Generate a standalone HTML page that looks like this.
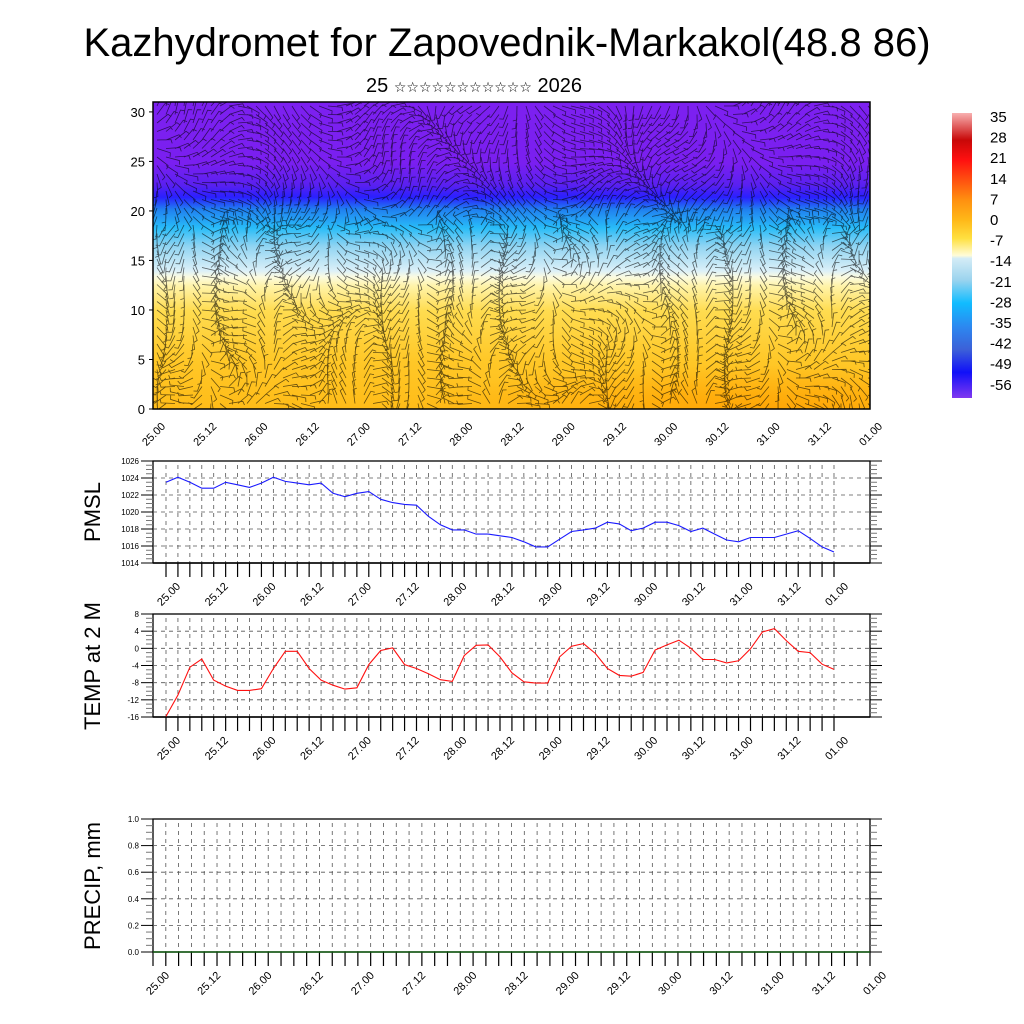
<!DOCTYPE html>
<html><head><meta charset="utf-8">
<style>
html,body{margin:0;padding:0;background:#fff;}
svg{display:block;font-family:"Liberation Sans","DejaVu Sans",sans-serif;}
</style></head>
<body>
<svg id="chart" width="1024" height="1024" viewBox="0 0 1024 1024" xmlns="http://www.w3.org/2000/svg">
<defs>
<linearGradient id="vgrad" x1="0" y1="1" x2="0" y2="0">
<stop offset="0" stop-color="#ffbc18"/>
<stop offset="0.16" stop-color="#ffc828"/>
<stop offset="0.32" stop-color="#ffdc50"/>
<stop offset="0.40" stop-color="#fff3a8"/>
<stop offset="0.43" stop-color="#fbfbe0"/>
<stop offset="0.45" stop-color="#dcf0f8"/>
<stop offset="0.53" stop-color="#90d4f2"/>
<stop offset="0.59" stop-color="#28bcf8"/>
<stop offset="0.65" stop-color="#2080f0"/>
<stop offset="0.69" stop-color="#2a20ff"/>
<stop offset="0.73" stop-color="#5a20f0"/>
<stop offset="0.80" stop-color="#7a1ff0"/>
<stop offset="1" stop-color="#7c20f0"/>
</linearGradient>
<radialGradient id="orange" cx="0.85" cy="1" r="0.5">
<stop offset="0" stop-color="#ffa000" stop-opacity="0.8"/>
<stop offset="1" stop-color="#ffa000" stop-opacity="0"/>
</radialGradient>
<linearGradient id="cbar" x1="0" y1="0" x2="0" y2="1">
<stop offset="0" stop-color="#f8b0b0"/>
<stop offset="0.095" stop-color="#c80808"/>
<stop offset="0.165" stop-color="#ff1010"/>
<stop offset="0.235" stop-color="#ff5010"/>
<stop offset="0.305" stop-color="#ff9010"/>
<stop offset="0.375" stop-color="#ffb818"/>
<stop offset="0.44" stop-color="#ffe040"/>
<stop offset="0.50" stop-color="#fffcd8"/>
<stop offset="0.51" stop-color="#d4ecf6"/>
<stop offset="0.585" stop-color="#9cd4ee"/>
<stop offset="0.667" stop-color="#10bcff"/>
<stop offset="0.75" stop-color="#2c88f0"/>
<stop offset="0.83" stop-color="#3c60d8"/>
<stop offset="0.91" stop-color="#1010f8"/>
<stop offset="1" stop-color="#8038f0"/>
</linearGradient>
<clipPath id="topclip"><rect x="153" y="102" width="717" height="307"/></clipPath>
</defs>

<text x="507" y="56" font-size="40" text-anchor="middle">Kazhydromet for Zapovednik-Markakol(48.8 86)</text>
<text x="474" y="92" font-size="20" text-anchor="middle">25 <tspan font-size="14">☆☆☆☆☆☆☆☆☆☆☆</tspan> 2026</text>

<g id="topsec"></g>
<g id="cb"></g>
<g id="pmsl"></g>
<g id="temp"></g>
<g id="precip"></g>
</svg>
<script>
// ---- data ----
const timeLabels = ["25.00","25.12","26.00","26.12","27.00","27.12","28.00","28.12","29.00","29.12","30.00","30.12","31.00","31.12","01.00"];
const heightTicks = [0,5,10,15,20,25,30];
const colorbarLabels = [35,28,21,14,7,0,-7,-14,-21,-28,-35,-42,-49,-56];
const pmslTicks = [1014,1016,1018,1020,1022,1024,1026];
const pmslValues = [1023.5,1024.1,1023.5,1022.8,1022.8,1023.5,1023.2,1022.9,1023.4,1024.1,1023.6,1023.4,1023.2,1023.4,1022.2,1021.8,1022.2,1022.4,1021.5,1021.1,1020.9,1020.8,1019.5,1018.5,
1017.9,1017.9,1017.4,1017.4,1017.2,1017.0,1016.5,1015.9,1015.9,1016.8,1017.7,1017.9,1018.1,1018.8,1018.6,1017.8,1018.1,1018.8,1018.8,1018.4,1017.7,1018.1,1017.4,1016.7,1016.5,1017.0,1017.0,1017.0,1017.4,1017.8,1016.9,1015.9,1015.3];
const tempTicks = [-16,-12,-8,-4,0,4,8];
const tempValues = [-15.85,-10.9,-4.4,-2.5,-7.4,-8.8,-9.8,-9.8,-9.4,-4.7,-0.7,-0.7,-4.7,-7.4,-8.6,-9.5,-9.2,-3.8,-0.5,0.1,-3.8,-4.7,-5.9,-7.3,
-7.7,-1.7,0.7,0.8,-2.0,-5.7,-7.8,-8.1,-8.1,-2.0,0.5,1.1,-1.2,-4.7,-6.3,-6.5,-5.6,-0.4,0.8,1.9,0.0,-2.6,-2.6,-3.4,-2.9,-0.1,3.8,4.6,1.8,-0.7,-1.0,-3.7,-4.9];
const precipTicks = [0.0,0.2,0.4,0.6,0.8,1.0];
const precipValues = [0,0,0,0,0,0,0,0,0,0,0,0,0,0,0,0,0,0,0,0,0,0,0,0,0,0,0,0,0,0,0,0,0,0,0,0,0,0,0,0,0,0,0,0,0,0,0,0,0,0,0,0,0,0,0,0,0];

const NS="http://www.w3.org/2000/svg";
function mk(parent,tag,attrs,text){const e=document.createElementNS(NS,tag);for(const k in attrs)e.setAttribute(k,attrs[k]);if(text!==undefined)e.textContent=text;parent.appendChild(e);return e;}

// ---- top section ----
const topSec=document.getElementById('topsec');
const T={x0:153,x1:870,y0:409,y1:102,ymax:31};
const tx=h=>T.x0+(T.x1-T.x0)*h/168;
const ty=v=>T.y0-(T.y0-T.y1)*v/T.ymax;
let bg=mk(topSec,'rect',{x:T.x0,y:T.y1,width:T.x1-T.x0,height:T.y0-T.y1,fill:'url(#vgrad)'});


let og=mk(topSec,'rect',{x:T.x0,y:ty(9),width:T.x1-T.x0,height:T.y0-ty(9),fill:'url(#orange)'});


// decorative wind barb texture
const barbs=mk(topSec,'g',{'clip-path':'url(#topclip)',stroke:'#000','stroke-opacity':'0.6','stroke-width':'0.8',fill:'none'});


let d='';
for(let gx=T.x0+4;gx<T.x1;gx+=9){for(let gy=T.y1+4;gy<T.y0;gy+=8.5){
  const u=(gx-T.x0)/717,v=(T.y0-gy)/307;
  let a=Math.sin(u*23+v*4)*1.2+Math.cos(v*9+u*7)*0.9+(v>0.6?0.6:1.6*Math.sin(u*40));
  const L=14;const ex=gx+Math.cos(a)*L,ey=gy+Math.sin(a)*L;
  const bx=ex+Math.cos(a+1.3)*4,by=ey+Math.sin(a+1.3)*4;
  d+=`M${gx.toFixed(1)} ${gy.toFixed(1)}L${ex.toFixed(1)} ${ey.toFixed(1)}L${bx.toFixed(1)} ${by.toFixed(1)}`;
}}
mk(barbs,'path',{d:d});
let fr=mk(topSec,'rect',{x:T.x0,y:T.y1,width:T.x1-T.x0,height:T.y0-T.y1,fill:'none',stroke:'#000','stroke-width':1.5});


heightTicks.forEach(v=>{
  let t=mk(topSec,'text',{x:T.x0-8,y:ty(v)+5,'font-size':13,'text-anchor':'end'},String(v));
  
  
  mk(topSec,'line',{x1:T.x0-4,x2:T.x0,y1:ty(v),y2:ty(v),stroke:'#000'});
});
timeLabels.forEach((s,i)=>{
  const x=tx(i*12);
  let t=mk(topSec,'text',{x:0,y:0,'font-size':11,'text-anchor':'end',transform:`translate(${x+13},${T.y0+18}) rotate(-45)`},s);
  
  
});

// ---- colorbar ----
const cb=document.getElementById('cb');
let cr=mk(cb,'rect',{x:952,y:113,width:20,height:285,fill:'url(#cbar)'});


colorbarLabels.forEach((v,i)=>{
  let t=mk(cb,'text',{x:990,y:122+i*20.6,'font-size':15},String(v));
  
  
});

// ---- line panels ----
function panel(gid,P,ticks,vals,color,title,titleY,fmt,minorPer,labOff){
  const g=document.getElementById(gid);
  const px=i=>P.x0+(P.x1-P.x0)*i/(vals.length-1);
  const py=v=>P.yb-(P.yb-P.yt)*(v-P.vmin)/(P.vmax-P.vmin);
  let bgr=mk(g,'rect',{x:P.xl,y:P.yt,width:P.xr-P.xl,height:P.yb-P.yt,fill:'#fff',stroke:'#000','stroke-width':1.3});
  
  
  const grid=mk(g,'g',{stroke:'#555','stroke-width':0.8,'stroke-dasharray':'4,4'});
  
  
  for(let i=0;i<vals.length;i++){const x=px(i);if(x>P.xl+1&&x<P.xr-1)mk(grid,'line',{x1:x,x2:x,y1:P.yt+4,y2:P.yb});}
  ticks.forEach((v,k)=>{
    const y=py(v);
    if(k>0&&k<ticks.length-1)mk(grid,'line',{x1:P.xl,x2:P.xr,y1:y,y2:y});
    mk(g,'line',{x1:P.xl-12,x2:P.xl,y1:y,y2:y,stroke:'#000'});
    mk(g,'line',{x1:P.xr,x2:P.xr+12,y1:y,y2:y,stroke:'#000'});
    let t=mk(g,'text',{x:P.xl-14,y:y+3,'font-size':8,'text-anchor':'end'},fmt(v));
    
    
    if(k<ticks.length-1){const step=(ticks[k+1]-v)/minorPer;for(let m=1;m<minorPer;m++){const yy=py(v+m*step);
      mk(g,'line',{x1:P.xl-7,x2:P.xl,y1:yy,y2:yy,stroke:'#777'});mk(g,'line',{x1:P.xr,x2:P.xr+7,y1:yy,y2:yy,stroke:'#777'});}}
  });
  for(let i=0;i<vals.length;i++){const x=px(i);mk(g,'line',{x1:x,x2:x,y1:P.yb,y2:P.yb+14,stroke:'#000','stroke-width':1.2});}
  mk(g,'line',{x1:P.xl,x2:P.xr,y1:P.yb,y2:P.yb,stroke:'#000','stroke-width':1.5});
  timeLabels.forEach((s,i)=>{
    const x=px(i*4);
    let t=mk(g,'text',{x:0,y:0,'font-size':11,'text-anchor':'end',transform:`translate(${x+labOff},${P.yb+24}) rotate(-45)`},s);
    
    
  });
  let pts=vals.map((v,i)=>`${px(i).toFixed(1)},${py(v).toFixed(1)}`).join(' ');
  let ln=mk(g,'polyline',{points:pts,fill:'none',stroke:color,'stroke-width':1.1});
  
  
  let tt=mk(g,'text',{x:0,y:0,'font-size':22,'text-anchor':'middle',transform:`translate(100,${titleY}) rotate(-90)`},title);
  
  
}
panel('pmsl',{xl:153,x0:166,x1:834,xr:870,yt:461,yb:563,vmin:1014,vmax:1026},pmslTicks,pmslValues,'#1a1aff','PMSL',512,v=>String(v),4,15);
panel('temp',{xl:153,x0:166,x1:834,xr:870,yt:614,yb:717,vmin:-16,vmax:8},tempTicks,tempValues,'#ff1010','TEMP at 2 M',666,v=>String(v),4,15);
panel('precip',{xl:153,x0:153,x1:870,xr:870,yt:819,yb:952,vmin:0,vmax:1},precipTicks,precipValues,'#1a8a1a','PRECIP, mm',886,v=>v.toFixed(1),4,17);
</script>
</body></html>
